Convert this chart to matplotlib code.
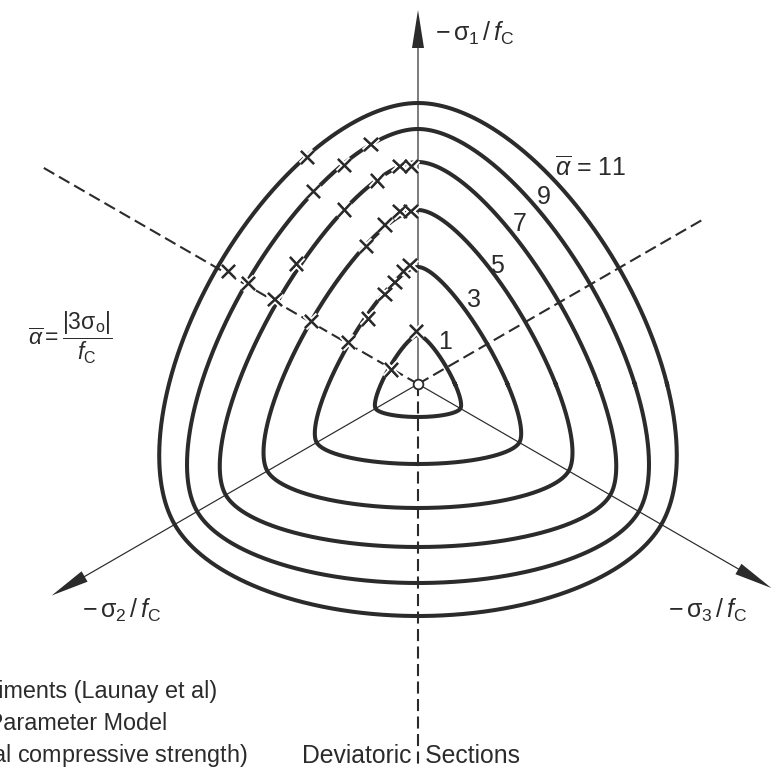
import numpy as np
import matplotlib

matplotlib.use('Agg')
import matplotlib.pyplot as plt
import matplotlib.patheffects as pe

plt.rcParams['font.family'] = ['Liberation Sans', 'DejaVu Sans']
plt.rcParams['mathtext.fontset'] = 'custom'
plt.rcParams['mathtext.rm'] = 'Liberation Sans'
plt.rcParams['mathtext.it'] = 'Liberation Sans:italic'
plt.rcParams['mathtext.bf'] = 'Liberation Sans:bold'

INK = '#2b2b2b'

# failure-surface levels and their meridian radii (compressive / tensile)
alpha_levels = [1, 3, 5, 7, 9, 11]
r_comp = [0.49, 1.17, 1.74, 2.22, 2.55, 2.81]
r_tens = [0.33, 0.80, 1.24, 1.63, 1.99, 2.32]

# experimental points (Launay et al), deviatoric plane coordinates
exp_x = [-1.103, -0.470, -0.737, -1.047, -0.180, -0.063, -0.403, -0.737,
         -1.213, -0.180, -0.070, -0.330, -0.513, -1.897, -1.697, -1.430,
         -1.063, -0.697, -0.080, -0.147, -0.230, -0.330, -0.497, -0.013,
         -0.263]
exp_y = [2.267, 2.397, 2.183, 1.923, 2.173, 2.173, 2.030, 1.740,
         1.200, 1.723, 1.723, 1.590, 1.373, 1.123, 1.007, 0.847,
         0.623, 0.413, 1.183, 1.123, 1.013, 0.897, 0.650, 0.523,
         0.140]


def ww_radius(phi, rc, rt):
    """Willam-Warnke elliptic trace between tensile (rt) and compressive (rc) meridians."""
    u = np.mod(phi - np.pi / 6, 2 * np.pi / 3)
    th = np.minimum(u, 2 * np.pi / 3 - u)
    c = np.cos(th)
    d2 = rc ** 2 - rt ** 2
    num = 2 * rc * d2 * c + rc * (2 * rt - rc) * np.sqrt(4 * d2 * c ** 2 + 5 * rt ** 2 - 4 * rt * rc)
    den = 4 * d2 * c ** 2 + (rc - 2 * rt) ** 2
    return num / den


fig = plt.figure(figsize=(7.77, 7.81), dpi=100)
ax = fig.add_axes([0, 0, 1, 1])
ax.set_xlim(-4.18, 3.59)
ax.set_ylim(-3.97, 3.84)
ax.set_aspect('equal')
ax.axis('off')

# dashed tensile meridians
dash = (0, (5.8, 2.6))
for ang, length in [(150, 4.36), (30, 3.30), (270, 3.81)]:
    a = np.radians(ang)
    ax.plot([0, length * np.cos(a)], [0, length * np.sin(a)],
            color=INK, lw=1.5, linestyle=dash, zorder=1)

# principal stress axes
for ang, length in [(90, 3.74), (210, 4.23), (330, 4.08)]:
    a = np.radians(ang)
    ax.arrow(0, 0, length * np.cos(a), length * np.sin(a), width=0.012,
             head_width=0.12, head_length=0.38, length_includes_head=True,
             color=INK, lw=0, zorder=2)

# deviatoric sections
phi = np.linspace(0, 2 * np.pi, 1441)
for rc, rt in zip(r_comp, r_tens):
    r = ww_radius(phi, rc, rt)
    ax.plot(r * np.cos(phi), r * np.sin(phi), color=INK, lw=2.9, zorder=3)

# experiments
ax.plot(exp_x, exp_y, linestyle='none', marker='x', ms=9.5, mew=1.6, color=INK, zorder=4,
        path_effects=[pe.withStroke(linewidth=4.5, foreground='white'), pe.Normal()])

ax.plot([0], [0], marker='o', ms=7, mfc='white', mec=INK, mew=1.3, zorder=5)

# level labels
fs = 18
level_pos = [(0.20, 0.42), (0.49, 0.84), (0.72, 1.18), (0.95, 1.60), (1.19, 1.865), (1.37, 2.16)]
for lev, (lx, ly) in zip(alpha_levels, level_pos):
    txt = str(lev) if lev != alpha_levels[-1] else r'$\overline{\alpha}$ = ' + str(lev)
    ax.text(lx, ly, txt, fontsize=fs, color=INK, ha='left', va='center')

ax.text(0.17, 3.51, r'$-\,\mathrm{\sigma}_1\,/\,f_\mathrm{C}$', fontsize=fs, color=INK, ha='left', va='center')
ax.text(-3.36, -2.26, r'$-\,\mathrm{\sigma}_2\,/\,f_\mathrm{C}$', fontsize=fs, color=INK, ha='left', va='center')
ax.text(2.50, -2.26, r'$-\,\mathrm{\sigma}_3\,/\,f_\mathrm{C}$', fontsize=fs, color=INK, ha='left', va='center')
ax.text(-3.90, 0.46, r'$\overline{\alpha}=\dfrac{|3\mathrm{\sigma}_\mathrm{o}|}{f_\mathrm{C}}$',
        fontsize=16.5, color=INK, ha='left', va='center')

# legend block
fs_leg = 16.8
ax.text(-2.01, -3.14, 'Experiments (Launay et al)', fontsize=fs_leg, color=INK, ha='right', va='baseline')
ax.text(-2.51, -3.46, 'Five Parameter Model', fontsize=fs_leg, color=INK, ha='right', va='baseline')
ax.text(-1.70, -3.78, r'($f_\mathrm{C}$ = uniaxial compressive strength)', fontsize=fs_leg, color=INK,
        ha='right', va='baseline')
ax.text(-1.16, -3.79, 'Deviatoric  Sections', fontsize=17.8, color=INK, ha='left', va='baseline')

fig.savefig('out.png', dpi=100)
